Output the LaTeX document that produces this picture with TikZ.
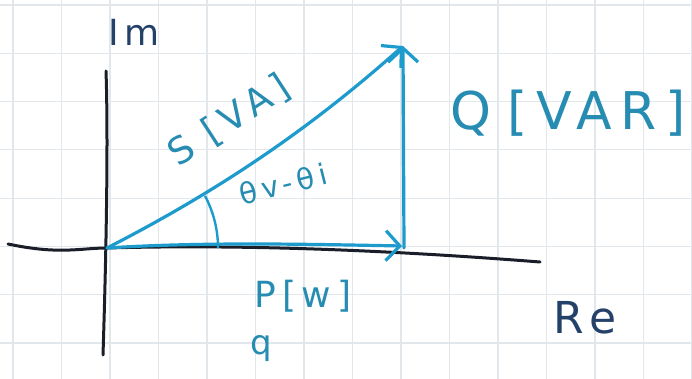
\documentclass[tikz,border=0pt]{standalone}
\usepackage{fontspec}
\setmainfont{DejaVu Sans}
\newfontfamily\handfont[LetterSpace=16]{DejaVu Sans}
\usetikzlibrary{arrows.meta, positioning, calc}
\definecolor{InkBlue}{RGB}{30,155,205}
\definecolor{InkTeal}{RGB}{38,140,178}
\definecolor{InkDark}{RGB}{25,30,40}
\definecolor{InkNavy}{RGB}{35,65,105}
\definecolor{GridGray}{RGB}{226,231,235}

\begin{document}
\begin{tikzpicture}[x=1pt, y=1pt,
    gridline/.style={GridGray, line width=1.2pt},
    axisline/.style={InkDark, line width=3pt, line cap=round, line join=round},
    vecline/.style={InkBlue, line width=3.2pt, line cap=round, line join=round,
                    -{Straight Barb[length=14pt, width=30pt]}},
    hand/.style={InkTeal, inner sep=0pt}]
  \useasboundingbox (0,0) rectangle (692,379);

  % squared paper
  \foreach \i in {0,...,14}
    \draw[gridline] ({13+48.5*\i},0) -- ({13+48.5*\i},379);
  \foreach \j in {0,...,7}
    \draw[gridline] (0,{374-48.3*\j}) -- (692,{374-48.3*\j});

  % axes
  \coordinate (O) at (107,131);
  \coordinate (ReL) at (8,135);
  \coordinate (ReR) at (540,117);
  \coordinate (ImT) at (106,308);
  \coordinate (ImB) at (103,24);
  \draw[axisline] (ReL) .. controls (60,124) and (80,131) .. (O)
                        .. controls (250,135) and (400,128) .. (ReR);
  \draw[axisline] (ImT) .. controls (108,250) and (107,150) .. (ImB);

  % power triangle
  \coordinate (Pend) at (402,133);
  \coordinate (Qfoot) at (404,131);
  \coordinate (Qend) at (403,333);
  \draw[vecline] (O) .. controls (200,137) and (300,135) .. (Pend);
  \draw[vecline] (Qfoot) -- (Qend);
  \draw[vecline] (O) .. controls (230,194) and (320,259) .. (Qend);
  \draw[InkBlue, line width=2.4pt] ($(O)+(0:111)$) arc[start angle=0, end angle=28, radius=111];

  % labels
  \node[hand, InkNavy] (imlab) at (134,347) {\handfont\fontsize{36}{36}\selectfont Im};
  \node[hand, InkNavy] (relab) at (585,61) {\handfont\fontsize{44}{44}\selectfont Re};
  \node[hand, rotate=33] (slab) at (229,258) {\handfont\fontsize{37}{37}\selectfont S [VA]};
  \node[hand, rotate=14] (anglab) at (283,195) {\handfont\fontsize{29}{29}\selectfont θv-θi};
  \node[hand] (qlab) at (568,266) {\handfont\fontsize{52}{52}\selectfont Q\hspace{16pt}[VAR]};
  \node[hand] (plab) at (303,83) {\handfont\fontsize{36}{36}\selectfont P[w]};
  \node[hand] (qsmall) at (261,30) {\handfont\fontsize{34}{34}\selectfont q};
\end{tikzpicture}
\end{document}
